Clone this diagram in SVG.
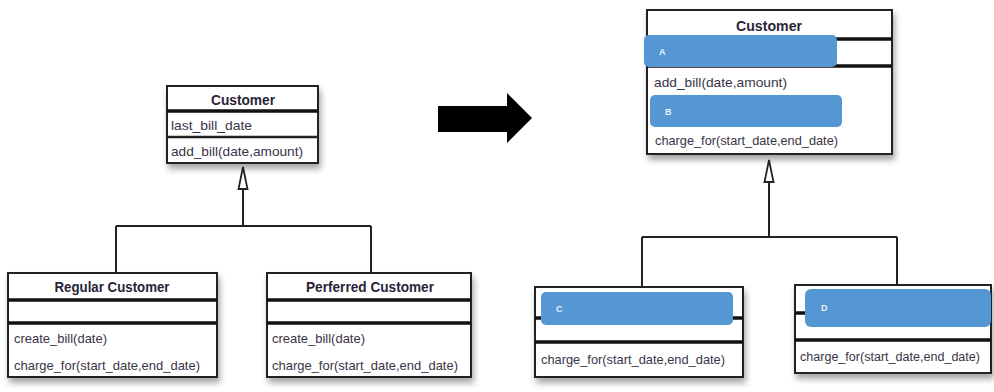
<svg xmlns="http://www.w3.org/2000/svg" width="994" height="392" viewBox="0 0 994 392">
<defs>
<filter id="sh" x="-10%" y="-10%" width="125%" height="140%">
<feDropShadow dx="2" dy="5" stdDeviation="3" flood-color="#000" flood-opacity="0.35"/>
</filter>
<style>
.box{fill:#fff;stroke:#222;stroke-width:2}
.thin{stroke:#222;stroke-width:1.5}
.thick{stroke:#111;stroke-width:3.5}
.t{font-family:"Liberation Sans Narrow","Liberation Sans",Arial,sans-serif;font-size:13px;fill:#3a3448}
.h{font-family:"Liberation Sans Narrow","Liberation Sans",Arial,sans-serif;font-size:15px;font-weight:bold;fill:#2a2438;text-anchor:middle}
.blue{fill:#5597d3}
.lbl{font-family:"Liberation Sans",Arial,sans-serif;font-size:9px;font-weight:bold;fill:#e8f0fa}
.con{stroke:#222;stroke-width:2;fill:none}
.tri{fill:#fff;stroke:#222;stroke-width:1.8}
</style>
</defs>
<rect width="994" height="392" fill="#fff"/>

<g id="customer-left">
<rect class="box" x="167" y="86" width="151" height="77" filter="url(#sh)"/>
<line class="thick" x1="167" y1="111" x2="318" y2="111"/>
<line class="thin" x1="167" y1="137" x2="318" y2="137" style="stroke-width:2.5"/>
<text class="h" x="243" y="105" textLength="64" lengthAdjust="spacingAndGlyphs">Customer</text>
<text class="t" x="171" y="130" textLength="81" lengthAdjust="spacingAndGlyphs">last_bill_date</text>
<text class="t" x="171" y="156" textLength="132" lengthAdjust="spacingAndGlyphs">add_bill(date,amount)</text>
</g>

<g id="regular-customer">
<rect class="box" x="8" y="273" width="209" height="104" filter="url(#sh)"/>
<line class="thick" x1="8" y1="300" x2="217" y2="300"/>
<line class="thick" x1="8" y1="323" x2="217" y2="323"/>
<text class="h" x="112" y="292" textLength="115" lengthAdjust="spacingAndGlyphs">Regular Customer</text>
<text class="t" x="14" y="343" textLength="93" lengthAdjust="spacingAndGlyphs">create_bill(date)</text>
<text class="t" x="14" y="370" textLength="186" lengthAdjust="spacingAndGlyphs">charge_for(start_date,end_date)</text>
</g>

<g id="perferred-customer">
<rect class="box" x="267" y="273" width="204" height="104" filter="url(#sh)"/>
<line class="thick" x1="267" y1="300" x2="471" y2="300"/>
<line class="thick" x1="267" y1="323" x2="471" y2="323"/>
<text class="h" x="370" y="292" textLength="128" lengthAdjust="spacingAndGlyphs">Perferred Customer</text>
<text class="t" x="272" y="343" textLength="93" lengthAdjust="spacingAndGlyphs">create_bill(date)</text>
<text class="t" x="272" y="370" textLength="186" lengthAdjust="spacingAndGlyphs">charge_for(start_date,end_date)</text>
</g>

<g id="big-arrow">
<polygon points="438,106 507,106 507,93 532,118 507,143 507,132 438,132" fill="#000"/>
</g>

<g id="customer-right">
<rect class="box" x="647" y="10" width="245" height="144" filter="url(#sh)"/>
<line class="thick" x1="647" y1="39" x2="892" y2="39"/>
<line class="thick" x1="647" y1="66" x2="892" y2="66"/>
<text class="h" x="769" y="31" textLength="66" lengthAdjust="spacingAndGlyphs">Customer</text>
<text class="t" x="654" y="87" textLength="133" lengthAdjust="spacingAndGlyphs">add_bill(date,amount)</text>
<text class="t" x="655" y="145" textLength="183" lengthAdjust="spacingAndGlyphs">charge_for(start_date,end_date)</text>
<rect class="blue" x="644" y="35" width="193" height="32" rx="5"/>
<text class="lbl" x="659" y="55">A</text>
<rect class="blue" x="650" y="95" width="192" height="32" rx="5"/>
<text class="lbl" x="665" y="115">B</text>
</g>

<g id="class-c">
<rect class="box" x="535" y="287" width="208" height="90" filter="url(#sh)"/>
<line class="thick" x1="535" y1="318" x2="743" y2="318"/>
<line class="thick" x1="535" y1="342" x2="743" y2="342"/>
<text class="t" x="541" y="364" textLength="184" lengthAdjust="spacingAndGlyphs">charge_for(start_date,end_date)</text>
<rect class="blue" x="541" y="292" width="192" height="33" rx="5"/>
<text class="lbl" x="556" y="312">C</text>
</g>

<g id="class-d">
<rect class="box" x="795" y="285" width="196" height="88" filter="url(#sh)"/>
<line class="thick" x1="795" y1="313" x2="991" y2="313"/>
<line class="thick" x1="795" y1="340" x2="991" y2="340"/>
<text class="t" x="800" y="361" textLength="180" lengthAdjust="spacingAndGlyphs" style="font-size:12.5px">charge_for(start_date,end_date)</text>
<rect class="blue" x="805" y="289" width="186" height="38" rx="6"/>
<text class="lbl" x="821" y="311">D</text>
</g>

<g id="connectors">
<path class="con" d="M243,189 V226 M116,226 H371 M116,226 V273 M371,226 V273"/>
<polygon class="tri" points="243,167 247.5,189 238.5,189"/>
<path class="con" d="M769,182 V237 M642,237 H897 M642,237 V287 M897,237 V285"/>
<polygon class="tri" points="769,160 773.5,182 764.5,182"/>
</g>
</svg>
